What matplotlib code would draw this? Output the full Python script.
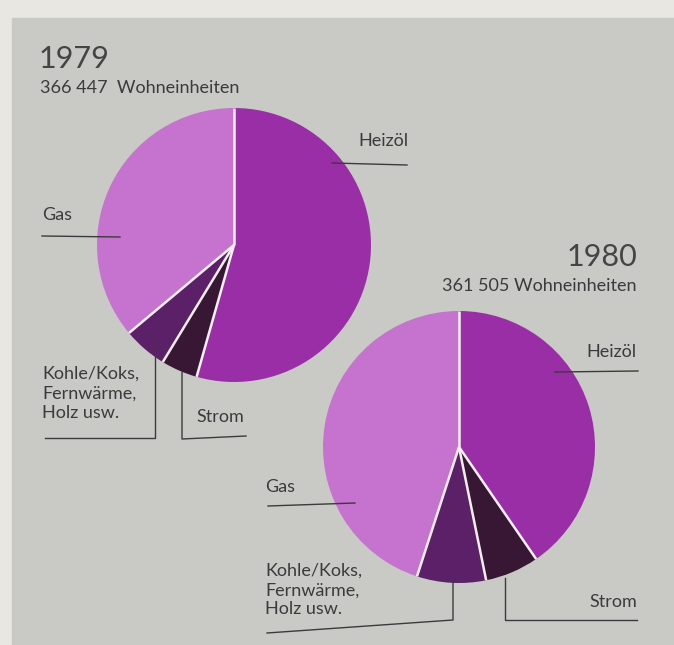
import matplotlib
matplotlib.use("Agg")
import numpy as np
import matplotlib.pyplot as plt
from matplotlib.patches import Rectangle

# Shares of heating systems (percent)
categories = ['Heizöl', 'Strom', 'Kohle/Koks,\nFernwärme,\nHolz usw.', 'Gas']
share_1979 = [54.4, 4.3, 5.2, 36.1]
share_1980 = [40.4, 6.4, 8.2, 45.0]
years = ['1979', '1980']
units = ['366 447  Wohneinheiten', '361 505 Wohneinheiten']

colors = ['#9a2ea7', '#371734', '#5b2068', '#c672cf']
bg = '#c9c9c5'
ink = '#3b3b3b'

plt.rcParams['font.family'] = ['Lato', 'DejaVu Sans']

fig = plt.figure(figsize=(6.74, 6.45), dpi=100)
fig.patch.set_facecolor('#e9e7e1')
ax = fig.add_axes([0, 0, 1, 1])

# scanned page: grey card on light paper
ax.add_patch(Rectangle((12, 18), 662, 627, color=bg, zorder=0))


def draw_pie(values, center, radius):
    # y axis is inverted, so counterclock=True reads clockwise on screen
    wedges, _ = ax.pie(values, colors=colors, startangle=-90, counterclock=True,
                       center=center, radius=radius,
                       wedgeprops=dict(linewidth=0), frame=True)
    # white separators only between slices, not around the rim
    for w in wedges:
        t = np.deg2rad(w.theta1)
        ax.plot([center[0], center[0] + radius * np.cos(t)],
                [center[1], center[1] + radius * np.sin(t)],
                color='#f4f0f0', linewidth=1.8, solid_capstyle='butt')


draw_pie(share_1979, (234, 245), 137)
draw_pie(share_1980, (459, 447), 136)

# headings
ax.text(39, 68, years[0], fontsize=22, color='#454545', va='baseline')
ax.text(40, 93, units[0], fontsize=13, color=ink, va='baseline')
ax.text(637, 266, years[1], fontsize=22, color='#454545',
        va='baseline', ha='right')
ax.text(637, 291, units[1], fontsize=13, color=ink, va='baseline', ha='right')

lab = dict(fontsize=13, color=ink, linespacing=1.25)
line = dict(color=ink, linewidth=1.0)

# 1979 labels
ax.text(358, 146, categories[0], va='baseline', **lab)
ax.plot([332, 407], [163, 165], **line)
ax.text(42, 220, categories[3], va='baseline', **lab)
ax.plot([42, 120], [236, 237], **line)
ax.text(42, 366, categories[2], va='top', **lab)
ax.plot([155, 155, 45], [338, 438, 438], **line)
ax.text(196, 422, categories[1], va='baseline', **lab)
ax.plot([182, 182, 246], [372, 439, 436], **line)

# 1980 labels
ax.text(637, 357, categories[0], va='baseline', ha='right', **lab)
ax.plot([555, 638], [372, 371], **line)
ax.text(265, 492, categories[3], va='baseline', **lab)
ax.plot([268, 355], [506, 503], **line)
ax.text(265, 563, categories[2], va='top', **lab)
ax.plot([453, 453, 267], [578, 620, 633], **line)
ax.text(637, 607, categories[1], va='baseline', ha='right', **lab)
ax.plot([505, 505, 637], [578, 620, 620], **line)

ax.set_xlim(0, 674)
ax.set_ylim(645, 0)
ax.set_aspect('equal')
ax.axis('off')

fig.savefig('out.png', dpi=100, facecolor=fig.get_facecolor())
